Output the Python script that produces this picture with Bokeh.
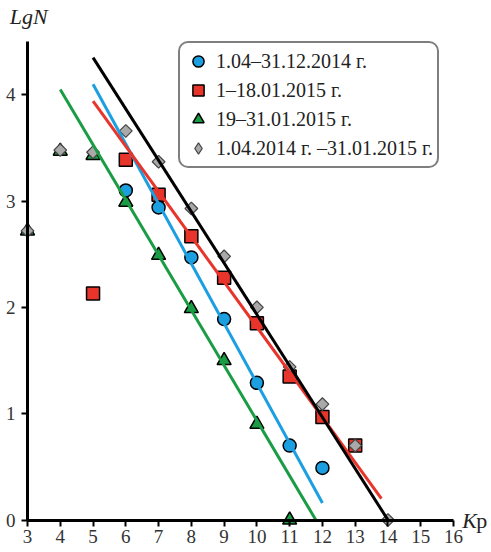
import math
from bokeh.plotting import figure
from bokeh.models import Range1d, Legend, LegendItem, Label, FixedTicker, ColumnDataSource
from bokeh.embed import file_html
from bokeh.resources import INLINE

# ---- data ----
kp_blue = [6, 7, 8, 9, 10, 11, 12]
lg_blue = [3.10, 2.94, 2.47, 1.89, 1.29, 0.70, 0.49]

kp_red = [5, 6, 7, 8, 9, 10, 11, 12, 13]
lg_red = [2.13, 3.39, 3.06, 2.67, 2.28, 1.85, 1.35, 0.97, 0.70]

kp_green = [3, 4, 5, 6, 7, 8, 9, 10, 11]
lg_green = [2.72, 3.47, 3.43, 2.99, 2.49, 1.99, 1.50, 0.90, 0.0]

kp_gray = [3, 4, 5, 6, 7, 8, 9, 10, 11, 12, 13, 14]
lg_gray = [2.72, 3.48, 3.46, 3.66, 3.37, 2.93, 2.48, 2.00, 1.44, 1.09, 0.70, 0.0]

# fitted lines (start / end)
fit_blue_x = [5.0, 12.0]
fit_blue_y = [4.10, 0.16]
fit_red_x = [5.0, 13.8]
fit_red_y = [3.94, 0.20]
fit_green_x = [4.0, 11.8]
fit_green_y = [4.05, 0.0]
fit_black_x = [5.0, 14.0]
fit_black_y = [4.35, 0.0]

labels = ["1.04–31.12.2014 г.", "1–18.01.2015 г.", "19–31.01.2015 г.",
          "1.04.2014 г. –31.01.2015 г."]
x_ticks = list(range(3, 17))
y_ticks = [0, 1, 2, 3, 4]

BLUE = "#1c9fe0"
RED = "#e8352b"
GREEN = "#1a9c45"
GRAY = "#a9a9a9"
SERIF = "Liberation Serif"

W, H = 491, 552
px_x = 32.77
px_y = 106.3
x0_px, y0_px = 27.0, 519.5
xr = Range1d(3 - x0_px / px_x, 3 + (W - x0_px) / px_x)
yr = Range1d(-(H - y0_px) / px_y, y0_px / px_y)

p = figure(width=W, height=H, x_range=xr, y_range=yr, output_backend="svg",
           toolbar_location=None, min_border=0)
p.outline_line_color = None
p.grid.visible = False
p.background_fill_color = "white"

for ax, loc, bnds, ticks, stand in ((p.xaxis[0], 0, (3, 16), x_ticks, 4),
                                    (p.yaxis[0], 3, (0, 4.5), y_ticks, 6)):
    ax.fixed_location = loc
    ax.bounds = bnds
    ax.ticker = FixedTicker(ticks=ticks)
    ax.axis_line_width = 3
    ax.axis_line_color = "black"
    ax.major_tick_line_width = 2
    ax.major_tick_line_color = "black"
    ax.major_tick_in = 0
    ax.major_tick_out = 6
    ax.minor_tick_line_color = None
    ax.major_label_text_font = SERIF
    ax.major_label_text_font_size = "19px"
    ax.major_label_text_color = "#333333"
    ax.major_label_standoff = stand

# markers
r_green = p.scatter(kp_green, lg_green, marker="triangle", size=14, fill_color=GREEN,
                    line_color="black", line_width=1.5)
r_red = p.scatter(kp_red, lg_red, marker="square", size=13, fill_color=RED,
                  line_color="black", line_width=1.5)
r_blue = p.scatter(kp_blue, lg_blue, marker="circle", size=13, fill_color=BLUE,
                   line_color="black", line_width=1.5)
gray_src = ColumnDataSource(dict(x=kp_gray, y=lg_gray))
r_gray = p.scatter("x", "y", source=gray_src, marker="square", size=9, angle=math.pi / 4,
                   fill_color=GRAY, line_color="#444444", line_width=1.2)
# legend proxy: same points with a diamond marker, hidden in the plot
r_gray_leg = p.scatter("x", "y", source=gray_src, marker="diamond", size=14,
                       fill_color=GRAY, line_color="#444444", line_width=1.2)
r_gray_leg.visible = False

# fitted lines
p.line(fit_green_x, fit_green_y, line_color=GREEN, line_width=3)
p.line(fit_blue_x, fit_blue_y, line_color=BLUE, line_width=3)
p.line(fit_red_x, fit_red_y, line_color=RED, line_width=3)
p.line(fit_black_x, fit_black_y, line_color="black", line_width=3)

legend = Legend(items=[LegendItem(label=labels[0], renderers=[r_blue]),
                       LegendItem(label=labels[1], renderers=[r_red]),
                       LegendItem(label=labels[2], renderers=[r_green]),
                       LegendItem(label=labels[3], renderers=[r_gray_leg])],
                location=(178, H - 168))
legend.label_text_font = SERIF
legend.label_text_font_size = "20px"
legend.label_text_color = "#222222"
legend.label_height = 20
legend.glyph_height = 28
legend.glyph_width = 28
legend.spacing = 1
legend.padding = 4
legend.margin = 0
legend.label_standoff = 4
legend.border_line_color = "black"
legend.border_line_width = 2
legend.background_fill_alpha = 1
legend.inactive_fill_alpha = 0
if "border_radius" in legend.properties():
    legend.border_radius = 10
p.add_layout(legend, "center")

p.add_layout(Label(x=2.46, y=4.74, text="LgN", text_font=SERIF, text_font_style="italic",
                   text_font_size="22px", text_baseline="middle", text_color="#222222"))
p.add_layout(Label(x=16.27, y=0, text="K", text_font=SERIF, text_font_style="italic",
                   text_font_size="22px", text_baseline="middle", text_color="#222222"))
p.add_layout(Label(x=16.27 + 14 / px_x, y=0, text="p", text_font=SERIF,
                   text_font_size="22px", text_baseline="middle", text_color="#222222"))

open("out.html", "w").write(file_html(p, INLINE))
